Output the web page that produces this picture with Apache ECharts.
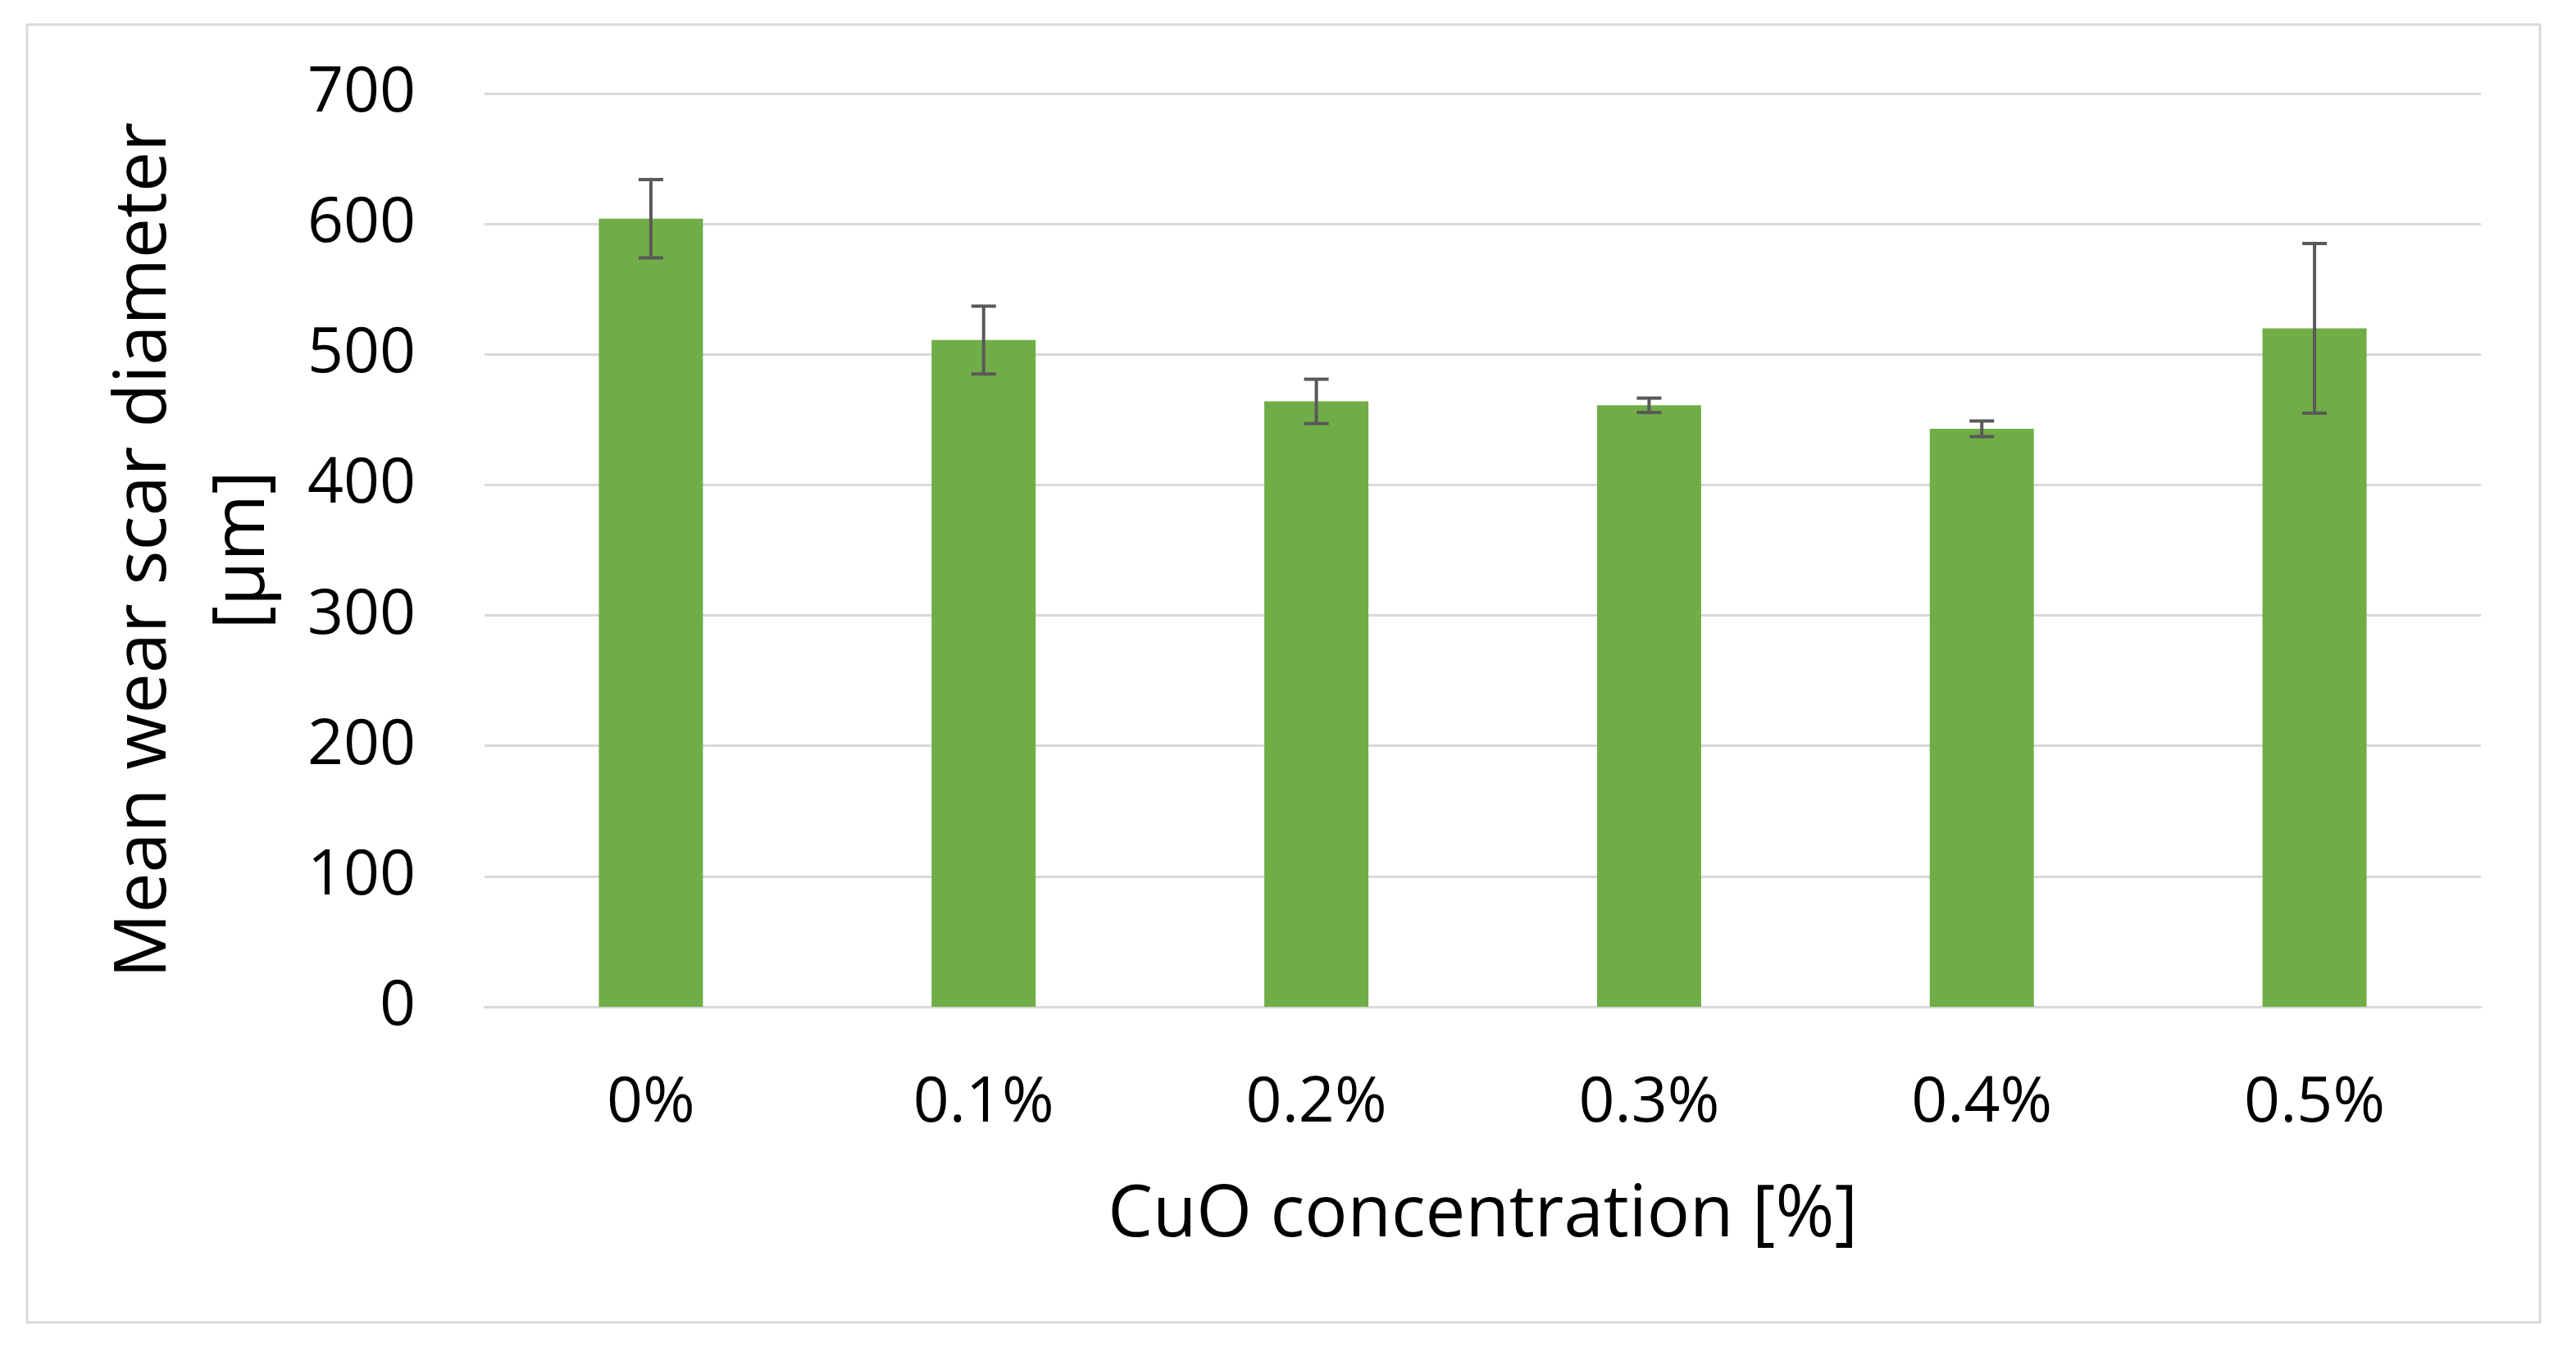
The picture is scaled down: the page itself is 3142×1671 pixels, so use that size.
<!DOCTYPE html>
<html>
<head>
<meta charset="utf-8">
<script src="https://cdn.jsdelivr.net/npm/echarts@6/dist/echarts.min.js"></script>
<style>
html,body{margin:0;padding:0;background:#fff;}
#chart{width:3142px;height:1671px;}
</style>
</head>
<body>
<div id="chart"></div>
<script>
const categories = ['0%', '0.1%', '0.2%', '0.3%', '0.4%', '0.5%'];
const meanValues = [604, 511, 464, 461, 443, 520];
const errorValues = [30, 26, 17, 5.5, 6, 65];
const yTicks = [0, 100, 200, 300, 400, 500, 600, 700];

const FONT = 'Open Sans';
const chart = echarts.init(document.getElementById('chart'));

const errorData = categories.map((c, i) => [i, meanValues[i] - errorValues[i], meanValues[i] + errorValues[i]]);

chart.setOption({
  backgroundColor: '#ffffff',
  animation: false,
  textStyle: { fontFamily: FONT },
  graphic: [{
    type: 'rect',
    shape: { x: 33, y: 30, width: 3065, height: 1583 },
    style: { fill: 'none', stroke: '#d9d9d9', lineWidth: 3 },
    silent: true, z: -10
  }],
  grid: { left: 591, right: 116, top: 114, bottom: 443 },
  xAxis: {
    type: 'category',
    data: categories,
    axisLine: { show: true, lineStyle: { color: '#d9d9d9', width: 3 } },
    axisTick: { show: false },
    axisLabel: { color: '#000', fontSize: 77, fontFamily: FONT, margin: 80 },
    name: 'CuO concentration [%]',
    nameLocation: 'middle',
    nameGap: 212,
    nameTextStyle: { color: '#000', fontSize: 87, fontFamily: FONT }
  },
  yAxis: {
    type: 'value',
    min: yTicks[0],
    max: yTicks[yTicks.length - 1],
    interval: 100,
    axisLine: { show: false },
    axisTick: { show: false },
    splitLine: { lineStyle: { color: '#d9d9d9', width: 3 } },
    axisLabel: { color: '#000', fontSize: 77, fontFamily: FONT, margin: 84 },
    name: 'Mean wear scar diameter\n[µm]',
    nameLocation: 'middle',
    nameRotate: 90,
    nameGap: 234,
    nameTextStyle: { color: '#000', fontSize: 88, fontFamily: FONT, lineHeight: 120, align: 'center' }
  },
  series: [{
    type: 'bar',
    data: meanValues,
    barWidth: 127,
    itemStyle: { color: '#70ad47' },
    z: 2
  }, {
    type: 'custom',
    data: errorData,
    z: 5,
    renderItem: function (params, api) {
      const x = api.value(0);
      const lo = api.coord([x, api.value(1)]);
      const hi = api.coord([x, api.value(2)]);
      const hw = 15;
      const st = { stroke: '#595959', lineWidth: 4 };
      return {
        type: 'group',
        children: [
          { type: 'line', shape: { x1: hi[0], y1: hi[1], x2: lo[0], y2: lo[1] }, style: st },
          { type: 'line', shape: { x1: hi[0] - hw, y1: hi[1], x2: hi[0] + hw, y2: hi[1] }, style: st },
          { type: 'line', shape: { x1: lo[0] - hw, y1: lo[1], x2: lo[0] + hw, y2: lo[1] }, style: st }
        ]
      };
    }
  }]
});
</script>
</body>
</html>
